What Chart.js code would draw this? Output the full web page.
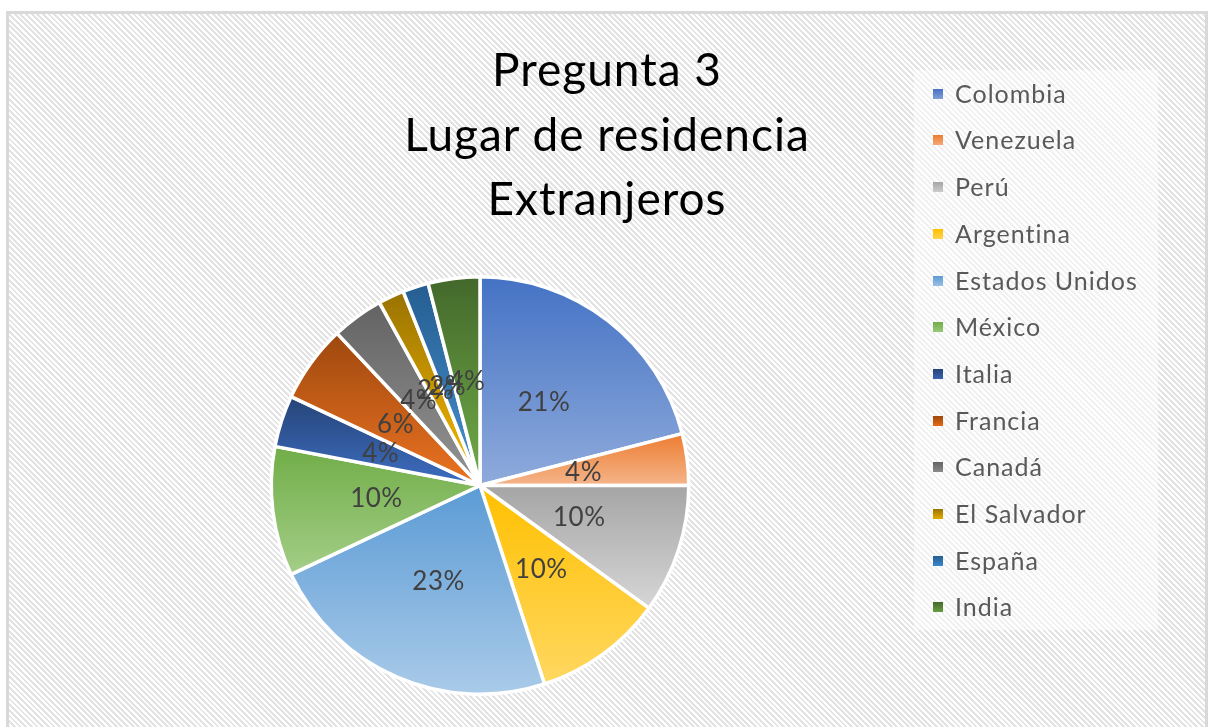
<!DOCTYPE html>
<html>
<head>
<meta charset="utf-8">
<script src="https://cdn.jsdelivr.net/npm/chart.js@4.4.0/dist/chart.umd.min.js"></script>
<style>
  body { margin: 0; background: #fff; width: 1209px; height: 727px; overflow: hidden; }
  #frame {
    position: absolute; left: 6px; top: 11px; width: 1202px; height: 740px;
    border: 3px solid #d9d9d9; box-sizing: border-box;
    background: repeating-linear-gradient(45deg, #ffffff 0px, #ffffff 2px, #e3e3e3 2px, #e3e3e3 4px);
  }
  #chart { position: absolute; left: 0; top: 0; }
  #title {
    position: absolute; left: 307px; width: 600px; top: 37px;
    font-family: Lato, sans-serif; font-size: 46px; line-height: 64.5px; letter-spacing: 1px;
    color: #000; text-align: center;
  }
  #legend {
    position: absolute; left: 914px; top: 70px; width: 244px; height: 560px;
    background: rgba(255, 255, 255, 0.5);
  }
  .item {
    position: absolute; left: 0; height: 46.6px; line-height: 46.6px;
    font-family: Lato, sans-serif; font-size: 25px; letter-spacing: 1px; color: #595959; white-space: nowrap;
  }
  .item i { position: absolute; left: 19px; top: 19px; width: 10px; height: 10px; }
  .item span { position: absolute; left: 41px; }
</style>
</head>
<body>
<div id="frame"></div>
<canvas id="chart" width="1209" height="727"></canvas>
<div id="title">Pregunta 3<br>Lugar de residencia<br>Extranjeros</div>
<div id="legend"></div>
<script>
const countries = ["Colombia", "Venezuela", "Perú", "Argentina", "Estados Unidos", "México",
  "Italia", "Francia", "Canadá", "El Salvador", "España", "India"];
const percents = [21, 4, 10, 10, 23, 10, 4, 6, 4, 2, 2, 4];
const colors = ["#4472C4", "#ED7D31", "#A5A5A5", "#FFC000", "#5B9BD5", "#70AD47",
  "#264478", "#9E480E", "#636363", "#997300", "#255E91", "#43682B"];

// lighter version of a colour: same hue, more lightness
function lighten(hex, amount) {
  let r = parseInt(hex.slice(1, 3), 16) / 255;
  let g = parseInt(hex.slice(3, 5), 16) / 255;
  let b = parseInt(hex.slice(5, 7), 16) / 255;
  const max = Math.max(r, g, b), min = Math.min(r, g, b);
  let h = 0, s = 0, l = (max + min) / 2;
  if (max !== min) {
    const d = max - min;
    s = l > 0.5 ? d / (2 - max - min) : d / (max + min);
    if (max === r) h = (g - b) / d + (g < b ? 6 : 0);
    else if (max === g) h = (b - r) / d + 2;
    else h = (r - g) / d + 4;
    h /= 6;
  }
  l = Math.min(0.95, l + amount);
  return `hsl(${Math.round(h * 360)}, ${Math.round(s * 100)}%, ${Math.round(l * 100)}%)`;
}

// vertical gradient over the slice's own height, dark at the top
function sliceFill(context) {
  const chart = context.chart;
  const i = context.dataIndex;
  const area = chart.chartArea;
  const ctrl = chart.getDatasetMeta(0).controller;
  if (!area || !ctrl || !ctrl.outerRadius) return colors[i];
  const cy = (area.top + area.bottom) / 2 + (ctrl.offsetY || 0);
  const r = ctrl.outerRadius;
  const total = percents.reduce((a, b) => a + b, 0);
  let before = 0;
  for (let j = 0; j < i; j++) before += percents[j];
  const a0 = -Math.PI / 2 + before / total * Math.PI * 2;
  const a1 = a0 + percents[i] / total * Math.PI * 2;
  const ys = [cy, cy + r * Math.sin(a0), cy + r * Math.sin(a1)];
  [-Math.PI / 2, Math.PI / 2, Math.PI * 1.5].forEach(a => {
    if (a > a0 && a < a1) ys.push(cy + r * Math.sin(a));
  });
  const top = Math.min(...ys), bottom = Math.max(...ys);
  const grad = chart.ctx.createLinearGradient(0, top, 0, bottom + 0.01);
  grad.addColorStop(0, colors[i]);
  grad.addColorStop(1, lighten(colors[i], 0.19));
  return grad;
}

const pctLabels = {
  id: "pctLabels",
  afterDatasetsDraw(chart) {
    const ctx = chart.ctx;
    ctx.save();
    ctx.font = "26px Lato, sans-serif";
    ctx.letterSpacing = "0.5px";
    ctx.fillStyle = "#404040";
    ctx.textAlign = "center";
    ctx.textBaseline = "middle";
    chart.getDatasetMeta(0).data.forEach((arc, i) => {
      const p = arc.tooltipPosition();
      ctx.fillText(percents[i] + "%", p.x, p.y);
    });
    ctx.restore();
  }
};

new Chart(document.getElementById("chart"), {
  type: "pie",
  data: {
    labels: countries,
    datasets: [{
      data: percents,
      backgroundColor: sliceFill,
      borderColor: "#ffffff",
      borderWidth: 3.5
    }]
  },
  options: {
    responsive: false,
    animation: false,
    devicePixelRatio: 1,
    layout: { padding: { left: 20, right: 269, top: 275, bottom: 31 } },
    plugins: {
      legend: { display: false },
      title: { display: false },
      tooltip: { enabled: false }
    }
  },
  plugins: [pctLabels]
});

// legend
const legend = document.getElementById("legend");
countries.forEach((name, i) => {
  const row = document.createElement("div");
  row.className = "item";
  row.style.top = (93 - 70 - 23.3 + i * 46.7) + "px";
  row.innerHTML = `<i style="background:linear-gradient(${colors[i]}, ${lighten(colors[i], 0.15)})"></i><span>${name}</span>`;
  legend.appendChild(row);
});
</script>
</body>
</html>
